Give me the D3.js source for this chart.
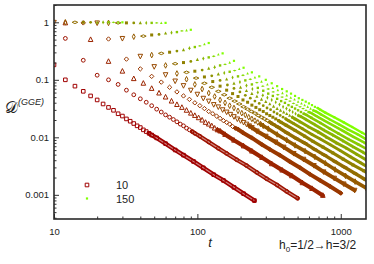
<!DOCTYPE html>
<html>
<head>
<meta charset="utf-8">
<script src="https://cdn.jsdelivr.net/npm/d3@7"></script>
<style>
  body { margin: 0; background: #fff; }
  svg { display: block; }
</style>
</head>
<body>
<div id="chart"></div>
<script>
// system sizes N, one series each; t is sampled every N/5
const sizes = [10, 20, 30, 40, 50, 60, 70, 80, 90, 100, 110, 120, 130, 140, 150];
const timeStep = [2, 4, 6, 8, 10, 12, 14, 16, 18, 20, 22, 24, 26, 28, 30];
// sample index j (t = timeStep * j)
const jIndex = [1, 2, 3, 4, 5, 6, 7, 8, 9, 10, 11, 12, 13, 14, 15, 16, 17, 18, 19, 20,
  21, 22, 23, 24, 26, 30, 35, 40, 47, 55, 65, 76, 90, 105, 125];

// log10 D(GGE), aligned with jIndex
const logD_10 = [0, -0.01, -0.35, -0.55, -0.74, -1.00, -1.11, -1.20, -1.28, -1.35, -1.42, -1.48, -1.53, -1.59, -1.63, -1.68, -1.72, -1.76, -1.80, -1.83, -1.87, -1.90, -1.93, -1.96, -2.01, -2.11, -2.22, -2.31, -2.42, -2.53, -2.65, -2.75, -2.87, -2.98, -3.10];
const logD_20 = [0, -0.01, -0.28, -0.66, -0.92, -1.00, -1.08, -1.18, -1.26, -1.33, -1.39, -1.45, -1.51, -1.56, -1.61, -1.65, -1.69, -1.73, -1.77, -1.80, -1.84, -1.87, -1.90, -1.93, -1.98, -2.08, -2.19, -2.28, -2.39, -2.49, -2.61, -2.72, -2.83, -2.94, -3.06];
const logD_30 = [0, -0.01, -0.30, -0.68, -0.85, -0.98, -1.06, -1.15, -1.23, -1.30, -1.37, -1.43, -1.48, -1.53, -1.58, -1.62, -1.66, -1.70, -1.74, -1.77, -1.80, -1.84, -1.87, -1.89, -1.95, -2.05, -2.15, -2.24, -2.35, -2.46, -2.57, -2.67, -2.79, -2.89, -3.01];
const logD_40 = [0, -0.01, -0.29, -0.64, -0.81, -0.94, -1.04, -1.13, -1.21, -1.28, -1.34, -1.40, -1.45, -1.50, -1.55, -1.59, -1.63, -1.67, -1.71, -1.74, -1.77, -1.81, -1.84, -1.86, -1.92, -2.01, -2.12, -2.21, -2.31, -2.42, -2.53, -2.64, -2.75, -2.85, -2.97];
const logD_50 = [0, -0.01, -0.28, -0.59, -0.77, -0.91, -1.02, -1.10, -1.18, -1.25, -1.32, -1.37, -1.43, -1.47, -1.52, -1.56, -1.60, -1.64, -1.68, -1.71, -1.74, -1.77, -1.80, -1.83, -1.89, -1.98, -2.08, -2.17, -2.28, -2.38, -2.49, -2.60, -2.71, -2.81, -2.92];
const logD_60 = [0, -0.01, -0.25, -0.57, -0.75, -0.89, -0.99, -1.08, -1.16, -1.23, -1.29, -1.35, -1.40, -1.45, -1.49, -1.54, -1.58, -1.61, -1.65, -1.68, -1.71, -1.74, -1.77, -1.80, -1.85, -1.95, -2.05, -2.14, -2.24, -2.34, -2.45, -2.56, -2.67, -2.77, -2.88];
const logD_70 = [0, -0.01, -0.24, -0.54, -0.72, -0.87, -0.97, -1.06, -1.13, -1.20, -1.26, -1.32, -1.37, -1.42, -1.47, -1.51, -1.55, -1.58, -1.62, -1.65, -1.68, -1.71, -1.74, -1.77, -1.82, -1.92, -2.02, -2.10, -2.21, -2.31, -2.42, -2.52, -2.63, -2.73, -2.84];
const logD_80 = [0, -0.01, -0.22, -0.52, -0.70, -0.85, -0.95, -1.03, -1.11, -1.18, -1.24, -1.29, -1.35, -1.39, -1.44, -1.48, -1.52, -1.55, -1.59, -1.62, -1.65, -1.68, -1.71, -1.74, -1.79, -1.88, -1.98, -2.07, -2.17, -2.27, -2.38, -2.48, -2.58, -2.68];
const logD_90 = [0, -0.01, -0.21, -0.50, -0.68, -0.83, -0.93, -1.01, -1.09, -1.15, -1.21, -1.27, -1.32, -1.37, -1.41, -1.45, -1.49, -1.52, -1.56, -1.59, -1.62, -1.65, -1.68, -1.71, -1.76, -1.85, -1.95, -2.03, -2.13, -2.23, -2.34, -2.44, -2.55];
const logD_100 = [0, -0.01, -0.19, -0.48, -0.65, -0.80, -0.90, -0.99, -1.06, -1.13, -1.19, -1.24, -1.29, -1.34, -1.38, -1.42, -1.46, -1.50, -1.53, -1.56, -1.59, -1.62, -1.65, -1.68, -1.73, -1.82, -1.91, -2.00, -2.10, -2.19, -2.30, -2.40];
const logD_110 = [0, -0.01, -0.18, -0.45, -0.63, -0.78, -0.88, -0.96, -1.04, -1.10, -1.16, -1.22, -1.27, -1.31, -1.35, -1.39, -1.43, -1.47, -1.50, -1.53, -1.56, -1.59, -1.62, -1.64, -1.69, -1.78, -1.88, -1.96, -2.06, -2.16, -2.26, -2.36];
const logD_120 = [0, -0.01, -0.17, -0.43, -0.61, -0.75, -0.86, -0.94, -1.01, -1.08, -1.14, -1.19, -1.24, -1.28, -1.33, -1.37, -1.40, -1.44, -1.47, -1.50, -1.53, -1.56, -1.59, -1.61, -1.66, -1.75, -1.85, -1.93, -2.03, -2.12, -2.22];
const logD_130 = [0, -0.01, -0.15, -0.41, -0.59, -0.73, -0.84, -0.92, -0.99, -1.05, -1.11, -1.16, -1.21, -1.26, -1.30, -1.34, -1.37, -1.41, -1.44, -1.47, -1.50, -1.53, -1.56, -1.58, -1.63, -1.72, -1.81, -1.89, -1.99, -2.08, -2.19];
const logD_140 = [0, -0.01, -0.14, -0.38, -0.56, -0.70, -0.81, -0.89, -0.96, -1.03, -1.08, -1.14, -1.18, -1.23, -1.27, -1.31, -1.34, -1.38, -1.41, -1.44, -1.47, -1.50, -1.53, -1.55, -1.60, -1.69, -1.78, -1.86, -1.95, -2.05];
const logD_150 = [0, -0.01, -0.13, -0.36, -0.54, -0.67, -0.79, -0.87, -0.94, -1.00, -1.06, -1.11, -1.16, -1.20, -1.24, -1.28, -1.32, -1.35, -1.38, -1.41, -1.44, -1.47, -1.49, -1.52, -1.57, -1.65, -1.74, -1.82, -1.92, -2.01];
const logD = [logD_10, logD_20, logD_30, logD_40, logD_50, logD_60, logD_70, logD_80,
  logD_90, logD_100, logD_110, logD_120, logD_130, logD_140, logD_150];

const xTicks = [10, 100, 1000];
const xTickLabels = ['10', '100', '1000'];
const yTicks = [0.001, 0.01, 0.1, 1];
const yTickLabels = ['0.001', '0.01', '0.1', '1'];
const legendSizes = [10, 150];

// marker per series
const markerType = ['square', 'circle', 'triangle', 'diamond', 'triangleDown', 'diamondTall', 'diamondWide',
  'square', 'circle', 'triangle', 'diamondTall', 'square', 'diamondWide', 'triangle', 'square'];
const markerOpen = [true, true, true, true, true, true, true, false, false, false, false, false, false, false, false];
const markerRadius = [1.8, 1.9, 2.3, 2.2, 2.3, 2.0, 2.0, 1.5, 1.4, 1.6, 1.5, 1.2, 1.4, 1.3, 1.1];
const bandWidth = [4.4, 4.2, 4.2, 4, 4, 3.6, 3.4, 3.2, 3, 3, 2.8, 2.6, 2.6, 2.5, 2.4];

const width = 374, height = 264;
const plot = { left: 54, right: 366, top: 5, bottom: 219 };

const color = d3.scaleLinear()
  .domain([0, sizes.length - 1])
  .range(['#a00000', '#80ff00'])
  .interpolate(d3.interpolateRgb);

const x = d3.scaleLog().domain([10, 1500]).range([plot.left, plot.right]);
const y = d3.scaleLog().domain([0.00038, 2]).range([plot.bottom, plot.top]);

const svg = d3.select('#chart').append('svg')
  .attr('width', width)
  .attr('height', height)
  .style('font-family', '"Liberation Sans", Arial, sans-serif');

svg.append('clipPath').attr('id', 'plotClip')
  .append('rect')
  .attr('x', plot.left).attr('y', plot.top)
  .attr('width', plot.right - plot.left).attr('height', plot.bottom - plot.top);

// marker outline centred on 0,0 with half-size r
function markerPath(type, r) {
  switch (type) {
    case 'square': return `M${-r},${-r}H${r}V${r}H${-r}Z`;
    case 'circle': return d3.symbol(d3.symbolCircle, Math.PI * r * r)();
    case 'triangle': return `M0,${-1.15 * r}L${r},${0.85 * r}L${-r},${0.85 * r}Z`;
    case 'triangleDown': return `M0,${1.15 * r}L${r},${-0.85 * r}L${-r},${-0.85 * r}Z`;
    case 'diamondTall': return `M0,${-1.4 * r}L${0.7 * r},0L0,${1.4 * r}L${-0.7 * r},0Z`;
    case 'diamondWide': return `M0,${-0.65 * r}L${1.4 * r},0L0,${0.65 * r}L${-1.4 * r},0Z`;
    default: return `M0,${-r}L${r},0L0,${r}L${-r},0Z`;
  }
}

// series data
const series = sizes.map((n, i) => ({
  n: n,
  i: i,
  points: logD[i].map((v, k) => ({ j: jIndex[k], t: timeStep[i] * jIndex[k], d: Math.pow(10, v) }))
}));

const plotArea = svg.append('g').attr('clip-path', 'url(#plotClip)');

// dense tail: markers overlap into a band
const band = d3.line().x(d => x(d.t)).y(d => y(d.d));
series.forEach(s => {
  const tail = s.points.filter(p => p.j >= 23);
  const c = color(s.i);
  plotArea.append('path')
    .datum(tail)
    .attr('d', band)
    .attr('fill', 'none')
    .attr('stroke', c)
    .attr('stroke-width', bandWidth[s.i])
    .attr('stroke-linecap', 'round');
  if (s.i < 2) {
    plotArea.append('path')
      .datum(tail)
      .attr('d', band)
      .attr('fill', 'none')
      .attr('stroke', d3.interpolateRgb(c, '#fff')(0.5))
      .attr('stroke-width', 1.2);
  }
});

series.forEach(s => {
  const c = color(s.i);
  const type = markerType[s.i];
  const open = markerOpen[s.i];
  plotArea.append('g')
    .selectAll('path')
    .data(s.points)
    .join('path')
    .attr('d', markerPath(type, markerRadius[s.i]))
    .attr('transform', d => `translate(${x(d.t)},${y(d.d)})`)
    .attr('fill', open ? 'none' : c)
    .attr('stroke', open ? c : 'none')
    .attr('stroke-width', open ? 1 : 0);
});

// axes: major + minor ticks pointing inward
const axisColor = '#333';
svg.append('g').attr('transform', `translate(${plot.left},0)`)
  .call(d3.axisLeft(y).tickValues(yTicks).tickSize(-5).tickPadding(5)
    .tickFormat((d, i) => yTickLabels[i]));
svg.append('g').attr('transform', `translate(${plot.left},0)`)
  .call(d3.axisLeft(y).tickValues(y.ticks().filter(v => !yTicks.includes(v))).tickSize(-2.5).tickFormat(''));
svg.append('g').attr('transform', `translate(0,${plot.bottom})`)
  .call(d3.axisBottom(x).tickValues(xTicks).tickSize(-5).tickPadding(9)
    .tickFormat((d, i) => xTickLabels[i]));
svg.append('g').attr('transform', `translate(0,${plot.bottom})`)
  .call(d3.axisBottom(x).tickValues(x.ticks().filter(v => !xTicks.includes(v))).tickSize(-2.5).tickFormat(''));

svg.selectAll('.domain').remove();
svg.selectAll('.tick line').attr('stroke', axisColor).attr('stroke-width', 1);
svg.selectAll('.tick text')
  .attr('font-size', 9.5)
  .attr('fill', '#222')
  .attr('font-family', '"Liberation Sans", Arial, sans-serif');

// frame
svg.append('rect')
  .attr('x', plot.left).attr('y', plot.top)
  .attr('width', plot.right - plot.left).attr('height', plot.bottom - plot.top)
  .attr('fill', 'none')
  .attr('stroke', '#2a2a2a')
  .attr('stroke-width', 1.6);

// axis titles
svg.append('text')
  .attr('x', 210).attr('y', 247)
  .attr('text-anchor', 'middle')
  .attr('font-size', 13)
  .attr('font-style', 'italic')
  .attr('fill', '#222')
  .text('t');

const yTitle = svg.append('text').attr('x', 5).attr('y', 113).attr('fill', '#222');
yTitle.append('tspan')
  .attr('font-family', '"DejaVu Serif", serif')
  .attr('font-size', 16)
  .text('𝒟');
yTitle.append('tspan')
  .attr('dy', -8)
  .attr('font-size', 9)
  .attr('font-style', 'italic')
  .text('(GGE)');

const quench = svg.append('text').attr('x', 279).attr('y', 249).attr('font-size', 12).attr('fill', '#222');
quench.append('tspan').text('h');
quench.append('tspan').attr('dy', 3).attr('font-size', 8).text('0');
quench.append('tspan').attr('dy', -3).text('=1/2→h=3/2');

// legend
const legend = svg.append('g');
legendSizes.forEach((n, k) => {
  const i = sizes.indexOf(n);
  const ly = 185 + k * 13.5;
  const open = markerOpen[i];
  legend.append('path')
    .attr('d', markerPath(markerType[i], markerRadius[i]))
    .attr('transform', `translate(87,${ly})`)
    .attr('fill', open ? 'none' : color(i))
    .attr('stroke', open ? color(i) : 'none');
  legend.append('text')
    .attr('x', 116).attr('y', ly + 4)
    .attr('font-size', 11)
    .attr('fill', '#222')
    .text(n);
});
</script>
</body>
</html>
